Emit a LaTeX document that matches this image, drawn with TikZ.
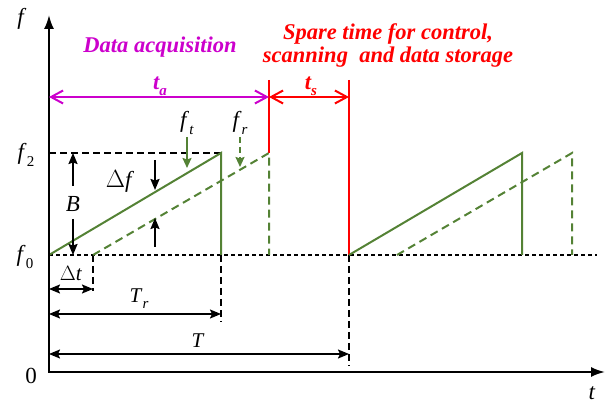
\documentclass[tikz,border=0pt]{standalone}
\usepackage{fontspec}
\setmainfont{Liberation Serif}
\usetikzlibrary{arrows.meta}
\definecolor{mag}{RGB}{204,0,204}
\definecolor{grn}{RGB}{84,130,53}
\definecolor{rd}{RGB}{255,0,0}
\newcommand\sbx[1]{\raisebox{-0.28em}{\fontsize{15}{15}\selectfont #1}}
\begin{document}
\begin{tikzpicture}[x=1pt,y=-1pt,
  axis/.style={line width=2pt,{Latex[length=14pt,width=10pt]}-{Latex[length=14pt,width=10pt]}},
  sig/.style={grn,line width=2pt},
  sigd/.style={grn,line width=2pt,dash pattern=on 8pt off 5pt},
  blkd/.style={black,line width=2pt,dash pattern=on 7pt off 4pt},
  blkdot/.style={black,line width=2pt,dash pattern=on 4pt off 3pt},
  dim/.style={black,line width=1.7pt,{Stealth[length=11pt,width=9pt,inset=2pt]}-{Stealth[length=11pt,width=9pt,inset=2pt]}},
  onearr/.style={line width=1.8pt,-{Stealth[length=11pt,width=9pt,inset=1.5pt]}},
  barb/.style={line width=2pt,{Straight Barb[length=12pt,width=13pt]}-{Straight Barb[length=12pt,width=13pt]}},
  lab/.style={inner sep=0pt,font=\fontsize{23}{25}\selectfont},
  slab/.style={inner sep=0pt,font=\fontsize{21}{23}\selectfont},
  ttl/.style={inner sep=0pt,font=\fontsize{22.5}{26}\selectfont\bfseries\itshape,align=center}]
\useasboundingbox (0,0) rectangle (611,403);
% key coordinates
\coordinate (ytop) at (49,15);
\coordinate (orig) at (49,372);
\coordinate (xend) at (605,372);
\coordinate (lf0) at (49,255);
\coordinate (lf2) at (49,153);
\coordinate (a1) at (221,153); \coordinate (a2) at (221,255);
\coordinate (d0) at (93,255); \coordinate (d1) at (269,153); \coordinate (d2) at (269,255);
\coordinate (b0) at (349,255); \coordinate (b1) at (522,153); \coordinate (b2) at (522,255);
\coordinate (e0) at (397,255); \coordinate (e1) at (572,153); \coordinate (e2) at (572,255);
\coordinate (f0end) at (597,255);
% reference lines
\draw[blkd] (lf2) -- (a1);
\draw[blkdot] (lf0) -- (f0end);
\coordinate (dtb) at (93,291); \coordinate (trb) at (221,322); \coordinate (tb) at (349,366);
\draw[blkd] (d0) -- (dtb);
\draw[blkd] (a2) -- (trb);
\draw[blkd] (b0) -- (tb);
% red markers
\coordinate (r1t) at (269,80); \coordinate (r2t) at (349,80);
\draw[rd,line width=2pt] (r1t) -- (d1);
\draw[rd,line width=2pt] (r2t) -- (b0);
% signals
\draw[sig] (lf0) -- (a1) -- (a2);
\draw[sigd] (d0) -- (d1) -- (d2);
\draw[sig] (b0) -- (b1) -- (b2);
\draw[sigd] (e0) -- (e1) -- (e2);
% axes
\draw[axis] (ytop) -- (orig) -- (xend);
\node[lab] (nf) at (22,19) {\textit{f}};
\node[lab] (n0) at (31,376) {0};
\node[lab] (nt) at (592,393) {\textit{t}};
\node[lab] (nf2) at (26,155) {\textit{f}\sbx{2}};
\node[lab] (nf0) at (25,257) {\textit{f}\sbx{0}};
% time intervals
\coordinate (ta0) at (49,97); \coordinate (ta1) at (269,97); \coordinate (ts1) at (349,97);
\draw[barb,mag] (ta0) -- (ta1);
\draw[barb,rd] (ta1) -- (ts1);
\node[ttl,mag] (nda) at (160,47) {Data acquisition};
\node[ttl,mag] (nta) at (160,86) {\textit{t}\sbx{\textit{a}}};
\node[ttl,rd] (nts) at (311,86) {\textit{t}\sbx{\textit{s}}};
\node[ttl,rd] (nsp) at (388,45) {Spare time for control,\\[-3pt]scanning \ and data storage};
% dimension arrows
\coordinate (dt0) at (49,289); \coordinate (dt1) at (93,289);
\coordinate (tr0) at (49,314); \coordinate (tr1) at (221,314);
\coordinate (t0) at (49,354); \coordinate (t1) at (349,354);
\draw[dim] (dt0) -- (dt1);
\draw[dim] (tr0) -- (tr1);
\draw[dim] (t0) -- (t1);
\node[slab] (ndt) at (71,274) {$\Delta$\textit{t}};
\node[slab] (ntr) at (139,299) {\textit{T}\sbx{\textit{r}}};
\node[slab] (nT) at (198,341) {\textit{T}};
% B
\coordinate (bu0) at (73,186); \coordinate (bd0) at (73,219); \coordinate (bd1) at (73,255);
\draw[onearr] (bu0) -- (lf2 -| bu0);
\draw[onearr] (bd0) -- (bd1);
\node[lab] (nB) at (73,204) {\textit{B}};
% Delta f
\coordinate (df0) at (155,160); \coordinate (df1) at (155,190);
\coordinate (du0) at (155,247); \coordinate (du1) at (155,218);
\draw[onearr] (df0) -- (df1);
\draw[onearr] (du0) -- (du1);
\node[lab] (ndf) at (120,181) {$\Delta$\textit{f}};
% ft fr
\coordinate (ft0) at (187,137); \coordinate (ft1) at (187,168);
\coordinate (fr0) at (240,137); \coordinate (fr1) at (240,167);
\draw[grn,line width=1.8pt,-{Stealth[length=10pt,width=9pt,inset=1.5pt]}] (ft0) -- (ft1);
\draw[grn,line width=1.8pt,dash pattern=on 6pt off 4pt,-{Stealth[length=10pt,width=9pt,inset=1.5pt]}] (fr0) -- (fr1);
\node[lab] (nft) at (187,123) {\textit{f}\sbx{\textit{t}}};
\node[lab] (nfr) at (240,123) {\textit{f}\sbx{\textit{r}}};
\end{tikzpicture}
\end{document}
